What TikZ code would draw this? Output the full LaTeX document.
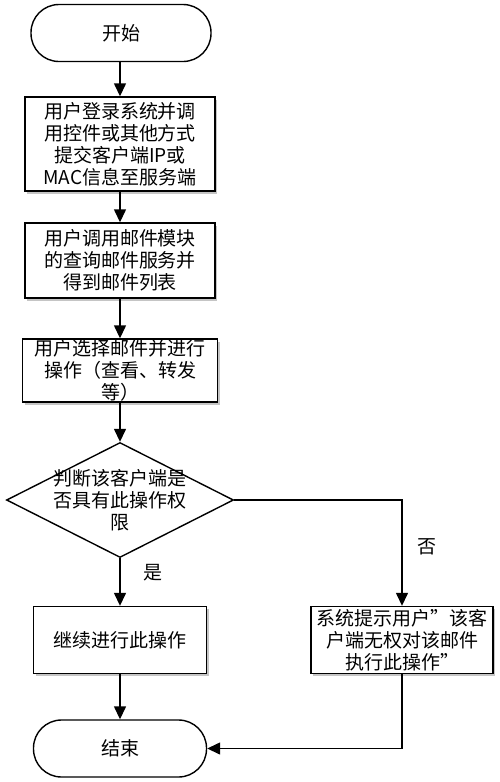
\documentclass[tikz,border=0pt]{standalone}
\usepackage{fontspec}
\newfontfamily\cjk{Noto Sans CJK SC}
\usetikzlibrary{shapes.geometric,shadows,arrows.meta}
\tikzset{
  x=1pt,y=-1pt,
  every node/.style={font=\cjk\fontsize{19}{22}\selectfont},
  procbox/.style={draw=black,line width=1.4pt,fill=white,align=center,inner sep=0pt,
    drop shadow={shadow xshift=2pt,shadow yshift=-2.5pt,opacity=0.45}},
  pill/.style={draw=black,line width=1.4pt,fill=white,rounded corners=28pt,inner sep=0pt},
  arr/.style={line width=1.4pt,-{Triangle[length=13pt,width=12pt]}},
  lbl/.style={inner sep=0pt}
}
\begin{document}
\begin{tikzpicture}
\useasboundingbox[fill=white] (0,0) rectangle (500,782);
\node[pill,minimum width=180pt,minimum height=57pt] (start) at (121,33) {开始};
\node[procbox,minimum width=190pt,minimum height=94pt] (b1) at (120,144)
  {用户登录系统并调\\用控件或其他方式\\提交客户端IP或\\MAC信息至服务端};
\node[procbox,minimum width=190pt,minimum height=75pt] (b2) at (120,260.5)
  {用户调用邮件模块\\的查询邮件服务并\\得到邮件列表};
\node[procbox,minimum width=195pt,minimum height=63pt] (b3) at (120,370.5)
  {用户选择邮件并进行\\操作（查看、转发\\等）};
\node[draw=black,line width=1.4pt,shape=diamond,minimum width=227pt,minimum height=115pt,inner sep=0pt] (dec) at (120,500) {};
\node[lbl,align=center] (dectext) at (dec.center) {判断该客户端是\\否具有此操作权\\限};
\node[procbox,minimum width=173pt,minimum height=67pt] (b5) at (120,640) {继续进行此操作};
\node[procbox,minimum width=182pt,minimum height=67pt] (b4) at (402,640)
  {系统提示用户”该客\\户端无权对该邮件\\执行此操作”};
\node[pill,minimum width=173pt,minimum height=57pt] (end) at (120,748.5) {结束};
\node[lbl] (no) at (427,547) {否};
\node[lbl] (yes) at (153,573) {是};
\draw[arr] (start.south -| b1.north) -- (b1.north);
\draw[arr] (b1) -- (b2);
\draw[arr] (b2) -- (b3);
\draw[arr] (b3.south) -- (dec.north);
\draw[arr] (dec.south) -- (b5.north);
\draw[arr] (b5.south) -- (end.north);
\draw[arr] (dec.east) -| (b4.north);
\draw[arr] (b4.south) |- (end.east);
\end{tikzpicture}
\end{document}
